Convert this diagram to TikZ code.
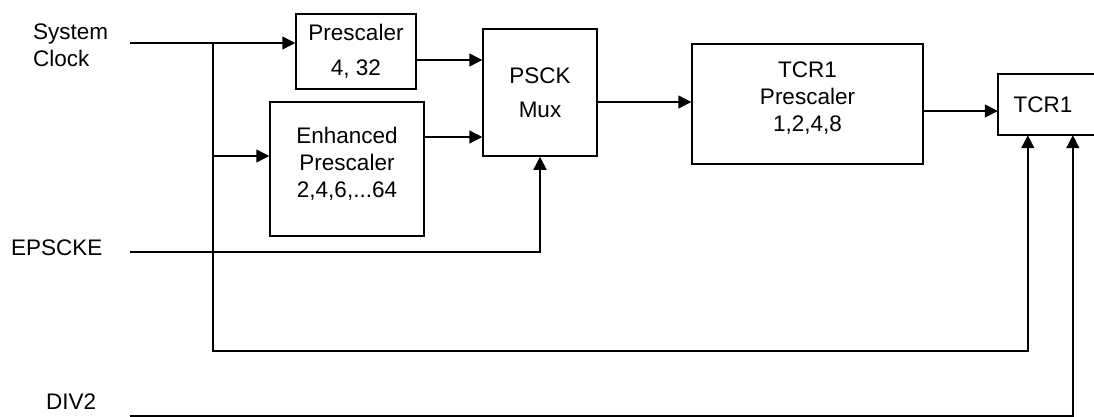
\documentclass[tikz,border=0pt]{standalone}
\usepackage{fontspec}
\setmainfont{Liberation Sans}
\usetikzlibrary{arrows.meta,calc}
\begin{document}
\begin{tikzpicture}[x=1pt,y=-1pt,
  txt/.style={font=\fontsize{22.5}{27}\selectfont},
  box/.style={draw, line width=1.5pt, inner sep=0pt, align=center, txt},
  lbl/.style={inner sep=0pt, txt},
  wire/.style={line width=1.5pt},
  arr/.style={wire, -{Triangle[length=13pt,width=13pt]}}]
\clip (0,0) rectangle (1094,417);
% blocks
\node[box, minimum width=120pt, minimum height=75pt] (pre) at (356,51.5) {Prescaler\\[8pt]4, 32};
\node[box, minimum width=154pt, minimum height=134pt] (enh) at (347,169) {Enhanced\\Prescaler\\2,4,6,...64\rule[-13pt]{0pt}{13pt}};
\node[box, minimum width=114pt, minimum height=127pt] (mux) at (540,92.5) {PSCK\\[7pt]Mux};
\node[box, minimum width=231pt, minimum height=120pt] (tp) at (807.5,104) {TCR1\\Prescaler\\1,2,4,8\rule[-14pt]{0pt}{14pt}};
\node[lbl, minimum width=90pt, minimum height=61pt] (tcr) at (1043,104.5) {TCR1};
\draw[wire] (tcr.north west) rectangle ($(tcr.south east)+(40,0)$);
% input labels
\node[lbl, align=left, anchor=north west] (sysclk) at (33,24) {System\\Clock};
\node[lbl, anchor=base west] (eps) at (11,255) {EPSCKE};
\node[lbl, anchor=base west] (div) at (46,409) {DIV2};
% wire points
\coordinate (sysin) at (130,43);
\coordinate (split) at (213,43);
\coordinate (branch) at (213,156);
\coordinate (epsin) at (130,252);
\coordinate (divin) at (130,416);
\coordinate (tcrinA) at ($(tcr.south west)+(30,0)$);
\coordinate (tcrinB) at ($(tcr.south west)+(75,0)$);
% connectors
\draw[arr] (sysin) -- (sysin -| pre.west);
\draw[arr] (split) -- (split |- 0,351) -| (tcrinA);
\draw[arr] (branch) -- (branch -| enh.west);
\draw[arr] (pre.east |- 0,60) -- (mux.west |- 0,60);
\draw[arr] (enh.east |- 0,137) -- (mux.west |- 0,137);
\draw[arr] (epsin) -| (mux.south);
\draw[arr] (mux.east |- 0,102) -- (tp.west |- 0,102);
\draw[arr] (tp.east |- 0,111) -- (tcr.west |- 0,111);
\draw[arr] (divin) -| (tcrinB);
\end{tikzpicture}
\end{document}
